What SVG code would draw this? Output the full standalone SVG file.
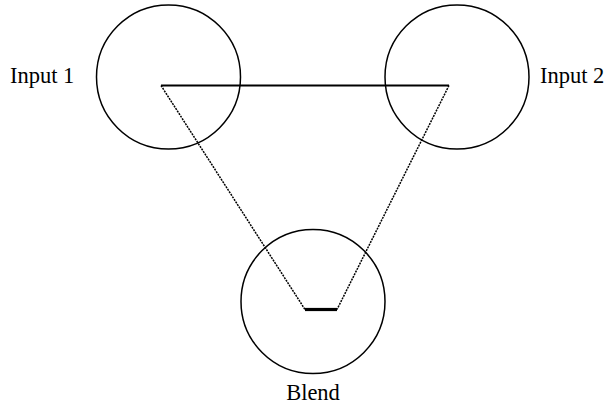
<svg xmlns="http://www.w3.org/2000/svg" width="610" height="405" viewBox="0 0 610 405">
<style>
.node circle{fill:none;stroke:#000;stroke-width:1.5}
.lbl{font-family:"Liberation Serif","Times New Roman",serif;font-size:22.5px;fill:#000}
.dot{stroke:#000;stroke-width:1.5;stroke-dasharray:2,1;fill:none}
</style>
<rect width="610" height="405" fill="#fff"/>
<g id="input1" class="node">
<circle cx="168.5" cy="77" r="72"/>
<text class="lbl" x="10" y="83">Input 1</text>
</g>
<g id="input2" class="node">
<circle cx="457" cy="77" r="72"/>
<text class="lbl" x="540" y="83">Input 2</text>
</g>
<g id="blend" class="node">
<circle cx="313" cy="301.5" r="72"/>
<text class="lbl" x="313" y="400" text-anchor="middle">Blend</text>
</g>
<g id="connectors">
<line x1="161" y1="85.5" x2="449" y2="85.5" stroke="#000" stroke-width="2.2"/>
<line class="dot" x1="161" y1="85.5" x2="305" y2="309.5"/>
<line class="dot" x1="449" y1="85.5" x2="337" y2="309.5"/>
<line x1="305" y1="309.5" x2="337" y2="309.5" stroke="#000" stroke-width="3.2"/>
</g>
</svg>
